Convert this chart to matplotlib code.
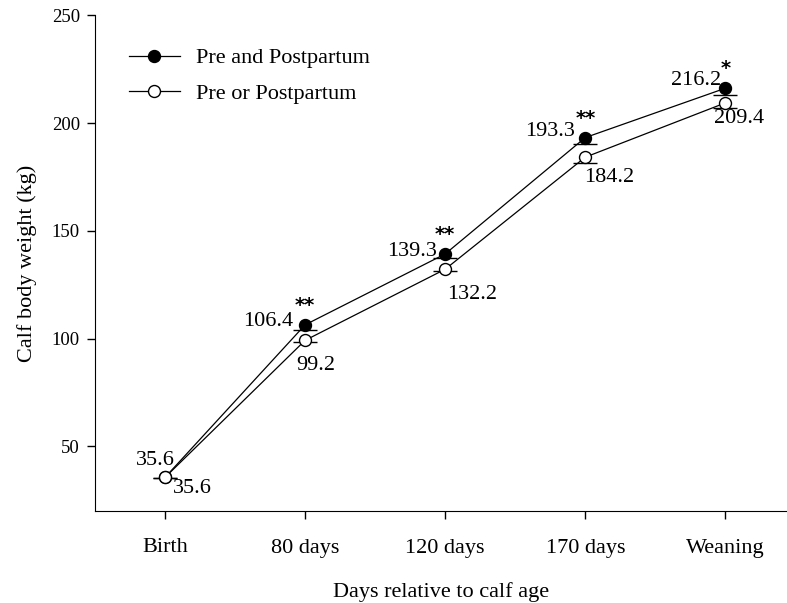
import matplotlib
matplotlib.use("Agg")
import matplotlib.pyplot as plt

categories = ["Birth", "80 days", "120 days", "170 days", "Weaning"]
pre_and_post = [35.6, 106.4, 139.3, 193.3, 216.2]
pre_or_post = [35.6, 99.2, 132.2, 184.2, 209.4]
err_and = [0.5, 2.3, 1.9, 3.2, 3.2]
err_or = [0.5, 1.0, 1.0, 2.8, 2.3]
signif = ["", "**", "**", "**", "*"]
yticks = [50, 100, 150, 200, 250]

plt.rcParams['font.family'] = ['Liberation Serif', 'DejaVu Serif']
fig = plt.figure(figsize=(7.87, 6.03), dpi=100)
ax = fig.add_axes([95/787, 92/603, 1 - 95/787, (511 - 15.4)/603])

x = list(range(len(categories)))
fs = 16

# error bars (lower only) with caps
for vals, errs in ((pre_and_post, err_and), (pre_or_post, err_or)):
    lows = [v - e for v, e in zip(vals, errs)]
    ax.vlines(x, lows, vals, color='black', lw=0.9, zorder=2)
    ax.plot(x, lows, linestyle='none', marker='_', markersize=17,
            markeredgewidth=1.0, color='black', zorder=2)

l1, = ax.plot(x, pre_and_post, '-o', color='black', lw=0.9, markersize=8.6,
              markerfacecolor='black', markeredgecolor='black', zorder=3,
              label='Pre and Postpartum')
l2, = ax.plot(x, pre_or_post, '-o', color='black', lw=0.9, markersize=8.6,
              markerfacecolor='white', markeredgecolor='black', markeredgewidth=1.0,
              zorder=3, label='Pre or Postpartum')

off_and = [(10, 17), (-12, 3), (-8, 2), (-10, 6), (-4, 8)]
off_or = [(27, -11), (11, -25), (27, -25), (24, -20), (14, -16)]
for i in x:
    ax.annotate(f"{pre_and_post[i]:.1f}", (x[i], pre_and_post[i]),
                xytext=off_and[i], textcoords='offset pixels',
                ha='right', va='center', fontsize=fs)
    ax.annotate(f"{pre_or_post[i]:.1f}", (x[i], pre_or_post[i]),
                xytext=off_or[i], textcoords='offset pixels',
                ha='center', va='center', fontsize=fs)
    if signif[i]:
        ax.annotate(signif[i], (x[i], pre_and_post[i]),
                    xytext=(0, 14), textcoords='offset pixels',
                    ha='center', va='baseline', fontsize=14, fontweight='bold',
                    family=['DejaVu Sans'])

ax.set_xlim(-0.5, 4.44)
ax.set_ylim(20, 250)
ax.set_xticks(x)
ax.set_xticklabels(categories, fontsize=fs)
ax.set_yticks(yticks)
ax.set_yticklabels([str(t) for t in yticks], fontsize=13.5)
ax.tick_params(direction='out', length=5.8, width=1)
ax.tick_params(axis='x', pad=14)
ax.tick_params(axis='y', pad=5)
ax.spines['top'].set_visible(False)
ax.spines['right'].set_visible(False)
ax.set_xlabel("Days relative to calf age", fontsize=fs, labelpad=18)
ax.set_ylabel("Calf body weight (kg)", fontsize=fs, labelpad=11)

ax.legend(handles=[l1, l2], loc='upper left', frameon=False, fontsize=fs,
          bbox_to_anchor=(0.02, 0.975), handlelength=2.3, handletextpad=0.7,
          labelspacing=0.68)

fig.savefig("out.png", dpi=100)
